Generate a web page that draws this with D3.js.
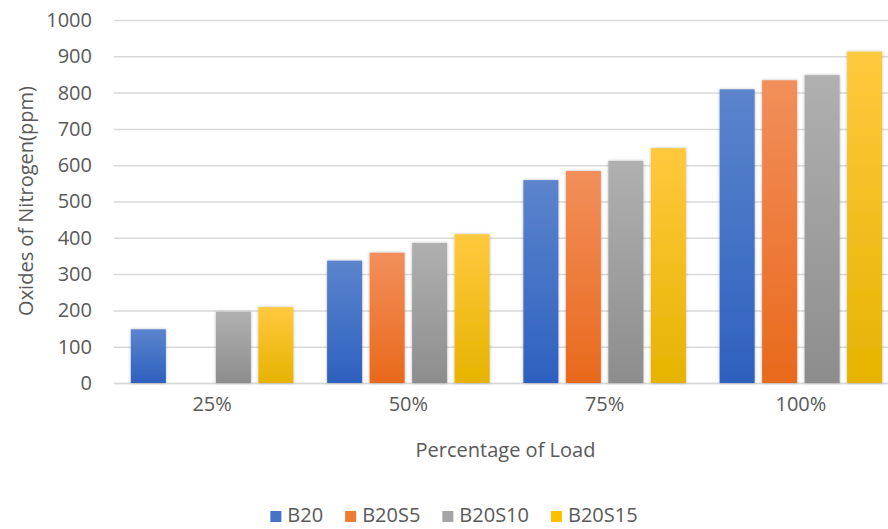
<!DOCTYPE html>
<html>
<head>
<meta charset="utf-8">
<script src="https://cdn.jsdelivr.net/npm/d3@7"></script>
<style>
  html, body { margin: 0; padding: 0; background: #fff; }
  svg { display: block; font-family: "Open Sans", sans-serif; }
</style>
</head>
<body>
<svg id="chart" width="888" height="529"></svg>
<script>
// NOx emissions by engine load for each blend
const loads = ["25%", "50%", "75%", "100%"];
const seriesNames = ["B20", "B20S5", "B20S10", "B20S15"];
const b20 = [148, 337, 559, 809];
const b20s5 = [null, 359, 584, 834];
const b20s10 = [196, 386, 612, 848];
const b20s15 = [209, 410, 647, 913];
const yTicks = [0, 100, 200, 300, 400, 500, 600, 700, 800, 900, 1000];

const seriesValues = [b20, b20s5, b20s10, b20s15];
const baseColors = ["#4472c4", "#ed7d31", "#a5a5a5", "#ffc000"];
const topColors = ["#5c84cd", "#f28f5b", "#b0b0b0", "#ffc93e"];
const bottomColors = ["#2e60bf", "#e9691c", "#8d8d8d", "#e6b300"];

const svg = d3.select("#chart");
const defs = svg.append("defs");

seriesNames.forEach((s, i) => {
  const g = defs.append("linearGradient")
    .attr("id", "grad" + i)
    .attr("x1", 0).attr("y1", 0).attr("x2", 0).attr("y2", 1);
  g.append("stop").attr("offset", "0%").attr("stop-color", topColors[i]);
  g.append("stop").attr("offset", "100%").attr("stop-color", bottomColors[i]);
});

const shadow = defs.append("filter").attr("id", "barShadow")
  .attr("x", "-20%").attr("y", "-10%").attr("width", "140%").attr("height", "120%");
shadow.append("feDropShadow")
  .attr("dx", 0).attr("dy", 0).attr("stdDeviation", 1.6)
  .attr("flood-color", "#000").attr("flood-opacity", 0.28);

const plot = { left: 114, right: 899, top: 20, bottom: 383 };

const x0 = d3.scaleBand().domain(loads).range([plot.left, plot.right]).padding(0);
const x1 = d3.scaleBand().domain(seriesNames).range([-85, 85])
  .paddingInner(0.176).paddingOuter(0.088);
const y = d3.scaleLinear().domain([0, 1000]).range([plot.bottom, plot.top]);

// horizontal gridlines
const yAxis = d3.axisLeft(y).tickValues(yTicks).tickFormat(d3.format("d"))
  .tickSize(-(plot.right - plot.left)).tickPadding(22);
const gy = svg.append("g").attr("transform", `translate(${plot.left},0)`).call(yAxis);
gy.select(".domain").remove();
gy.selectAll(".tick line").attr("stroke", "#d9d9d9").attr("stroke-width", 1.5);
gy.selectAll(".tick text")
  .attr("fill", "#595959").attr("font-size", 20)
  .attr("font-family", "'Open Sans', sans-serif");

// category axis
const xAxis = d3.axisBottom(x0).tickSize(0).tickPadding(14);
const gx = svg.append("g").attr("transform", `translate(0,${plot.bottom})`).call(xAxis);
gx.select(".domain").attr("stroke", "#d9d9d9").attr("stroke-width", 1.5);
gx.selectAll(".tick text")
  .attr("fill", "#595959").attr("font-size", 20)
  .attr("font-family", "'Open Sans', sans-serif");

// bars
const groups = svg.append("g").selectAll("g")
  .data(loads)
  .join("g")
  .attr("transform", d => `translate(${x0(d) + x0.bandwidth() / 2},0)`);

groups.selectAll("rect")
  .data((d, li) => seriesNames.map((s, si) => ({ s, si, v: seriesValues[si][li] })).filter(e => e.v != null))
  .join("rect")
  .attr("x", e => x1(e.s))
  .attr("width", x1.bandwidth())
  .attr("y", e => y(e.v))
  .attr("height", e => y(0) - y(e.v))
  .attr("fill", e => `url(#grad${e.si})`)
  .attr("filter", "url(#barShadow)");

// axis titles
svg.append("text")
  .attr("x", (plot.left + plot.right) / 2 - 1)
  .attr("y", 457)
  .attr("text-anchor", "middle")
  .attr("fill", "#595959").attr("font-size", 20)
  .text("Percentage of Load");

svg.append("text")
  .attr("transform", "translate(33,201) rotate(-90)")
  .attr("text-anchor", "middle")
  .attr("fill", "#595959").attr("font-size", 20)
  .text("Oxides of Nitrogen(ppm)");

// legend
const legend = svg.append("g");
const items = legend.selectAll("g").data(seriesNames).join("g");
items.append("rect")
  .attr("width", 11).attr("height", 11)
  .attr("y", -11)
  .attr("fill", (d, i) => baseColors[i]);
items.append("text")
  .attr("x", 17).attr("y", 0)
  .attr("fill", "#595959").attr("font-size", 20)
  .text(d => d);

let cursor = 0;
items.each(function () {
  const w = this.querySelector("text").getComputedTextLength();
  d3.select(this).attr("transform", `translate(${cursor},0)`);
  cursor += 17 + w + 22;
});
const legendWidth = cursor - 22;
legend.attr("transform", `translate(${454 - legendWidth / 2},522)`);
</script>
</body>
</html>
